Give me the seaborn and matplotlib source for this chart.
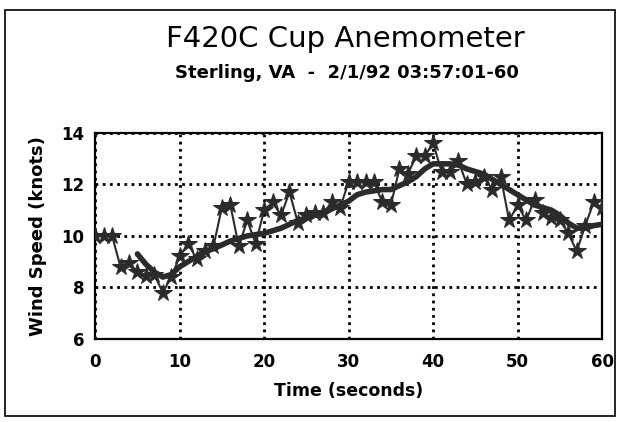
import numpy as np
import pandas as pd
import matplotlib
matplotlib.use('Agg')
import matplotlib.pyplot as plt
import seaborn as sns
from matplotlib.patches import Rectangle

# raw 1-second samples (knots)
time_s = list(range(0, 61))
wind_raw = [10.0, 10.0, 10.0, 8.8, 8.95, 8.6, 8.45, 8.5, 7.8, 8.4,
            9.2, 9.7, 9.1, 9.4, 9.6, 11.1, 11.2, 9.6, 10.6, 9.7,
            11.0, 11.3, 10.8, 11.7, 10.5, 10.8, 10.9, 10.9, 11.3, 11.1,
            12.1, 12.1, 12.1, 12.1, 11.3, 11.2, 12.6, 12.4, 13.1, 13.1,
            13.6, 12.5, 12.5, 12.9, 12.0, 12.1, 12.3, 11.8, 12.3, 10.6,
            11.2, 10.6, 11.4, 10.9, 10.7, 10.6, 10.1, 9.4, 10.4, 11.3,
            11.1]

# smoothed trace
time_smooth = list(range(5, 61))
wind_smooth = [9.3, 8.9, 8.6, 8.4, 8.5, 8.8, 9.0, 9.2, 9.4, 9.5,
               9.65, 9.8, 9.9, 10.0, 10.05, 10.1, 10.2, 10.3, 10.45, 10.6,
               10.7, 10.8, 10.9, 11.05, 11.2, 11.35, 11.6, 11.7, 11.75, 11.8,
               11.8, 11.95, 12.1, 12.3, 12.6, 12.8, 12.8, 12.8, 12.75, 12.6,
               12.5, 12.4, 12.2, 12.0, 11.8, 11.6, 11.4, 11.2, 11.1, 11.0,
               10.8, 10.5, 10.3, 10.3, 10.4, 10.45]

raw = pd.DataFrame({'t': time_s, 'v': wind_raw})
smooth = pd.DataFrame({'t': time_smooth, 'v': wind_smooth})

sns.set_style('white')
plt.rcParams['font.family'] = ['DejaVu Sans']
plt.rcParams['text.color'] = 'black'
plt.rcParams['axes.labelcolor'] = 'black'
plt.rcParams['xtick.color'] = 'black'
plt.rcParams['ytick.color'] = 'black'

fig = plt.figure(figsize=(6.22, 4.22), dpi=100)
ax = fig.add_axes([0.153, 0.197, 0.815, 0.488])

ink = '#2b2b2b'
sns.lineplot(data=smooth, x='t', y='v', ax=ax, color=ink, lw=4, zorder=3)
sns.lineplot(data=raw, x='t', y='v', ax=ax, color=ink, lw=1.5, marker='*',
             markersize=13, markeredgecolor=ink, markerfacecolor=ink, zorder=4)

ax.set_xlim(0, 60)
ax.set_ylim(6, 14)
ax.set_xticks([0, 10, 20, 30, 40, 50, 60])
ax.set_yticks([6, 8, 10, 12, 14])
ax.grid(True, color='black', linestyle=(0, (1, 1.6)), linewidth=2)
ax.tick_params(axis='both', length=0, labelsize=12)
ax.tick_params(axis='x', pad=10)
ax.tick_params(axis='y', pad=8)
for lab in ax.get_xticklabels() + ax.get_yticklabels():
    lab.set_fontweight('bold')
for s in ax.spines.values():
    s.set_color('black')
    s.set_linewidth(1.6)

ax.set_xlabel('Time (seconds)', fontsize=12.5, fontweight='bold', labelpad=8)
ax.set_ylabel('Wind Speed (knots)', fontsize=13, fontweight='bold', labelpad=10)

fig.text(0.556, 0.908, 'F420C Cup Anemometer', ha='center', va='center', fontsize=21)
fig.text(0.557, 0.828, 'Sterling, VA  -  2/1/92 03:57:01-60', ha='center', va='center',
         fontsize=13, fontweight='bold')

fig.patches.append(Rectangle((0.008, 0.014), 0.981, 0.962, transform=fig.transFigure,
                             fill=False, edgecolor='black', linewidth=1.2))

fig.savefig('out.png', dpi=100)
